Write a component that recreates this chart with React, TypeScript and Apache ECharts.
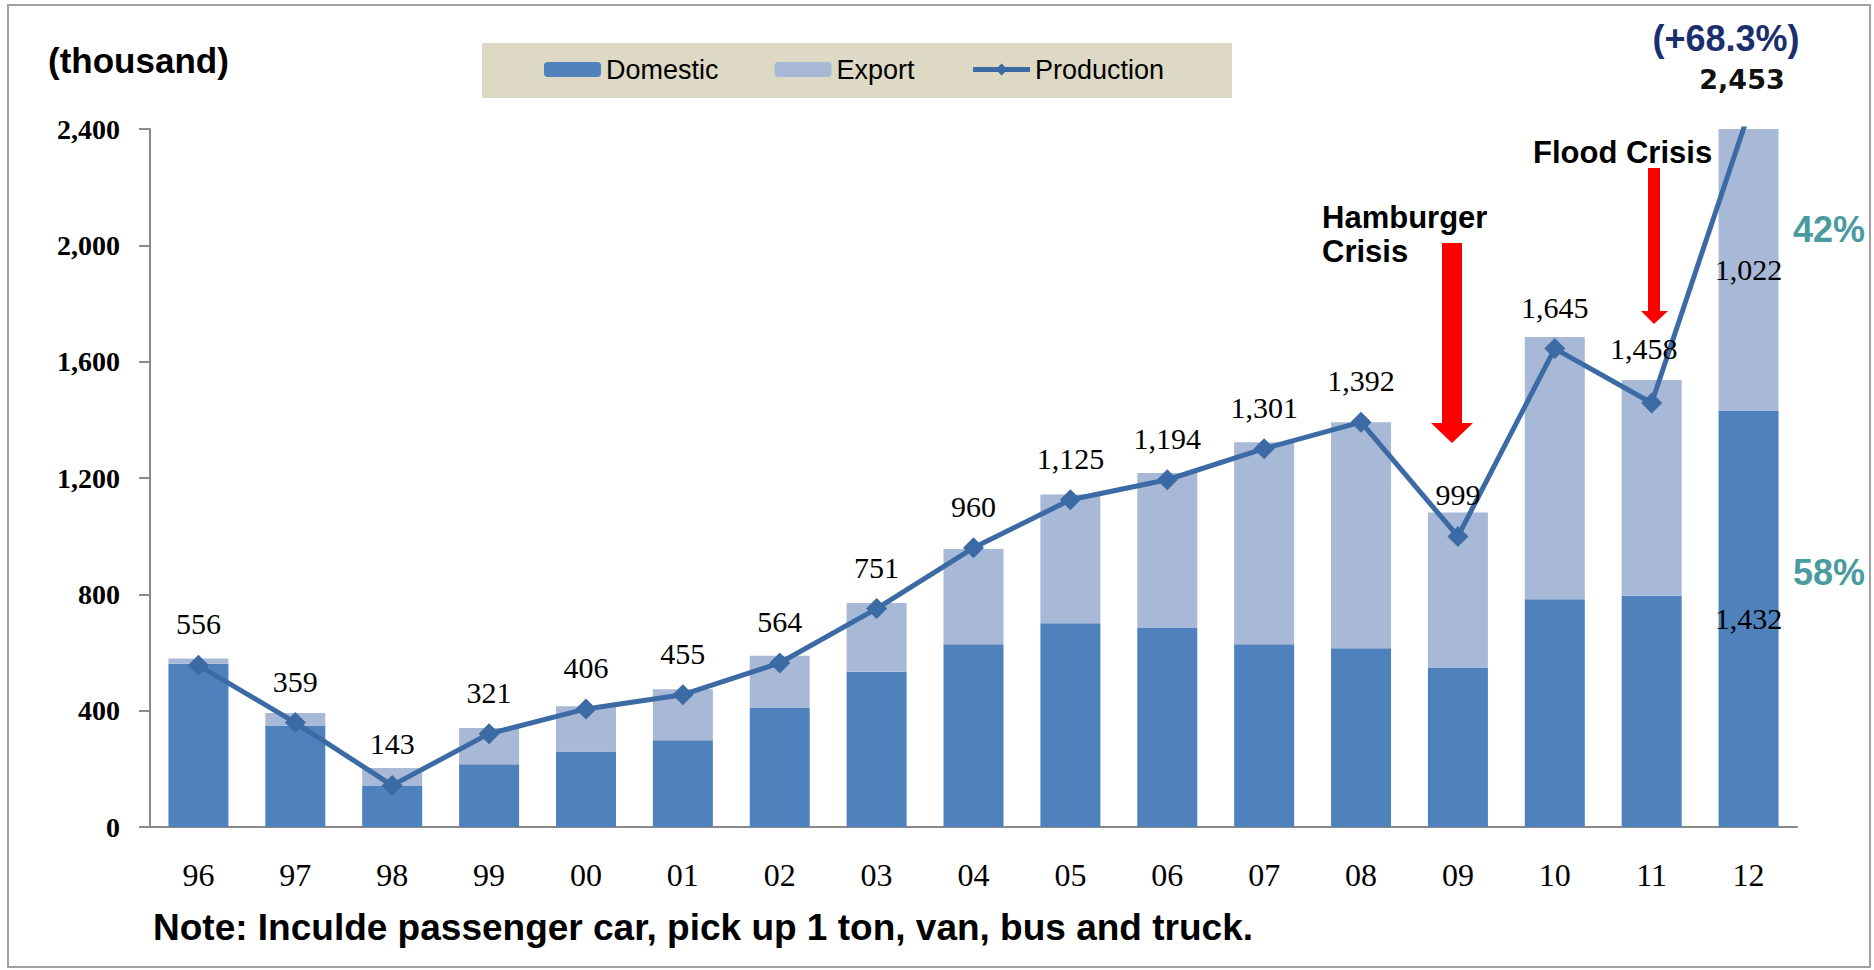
import React, { useEffect, useRef } from "react";
import * as echarts from "echarts";

const categories = ["96", "97", "98", "99", "00", "01", "02", "03", "04", "05", "06", "07", "08", "09", "10", "11", "12"];
const domestic = [561, 349, 141, 216, 260, 298, 409, 534, 628, 701, 684, 628, 615, 548, 783, 795, 1432];
const exportVals = [18, 43, 62, 124, 155, 176, 180, 236, 328, 442, 533, 695, 777, 533, 902, 742, 1022];
const production = [556, 359, 143, 321, 406, 455, 564, 751, 960, 1125, 1194, 1301, 1392, 999, 1645, 1458, 2453];
const yTicks = [0, 400, 800, 1200, 1600, 2000, 2400];
const seriesNames = ["Domestic", "Export", "Production"];
const unitLabel = "(thousand)";
const growthLabel = "(+68.3%)";
const exportShare = "42%";
const domesticShare = "58%";
const crisis1 = ["Hamburger", "Crisis"];
const crisis2 = "Flood Crisis";
const noteText = "Note: Inculde passenger car, pick up 1 ton, van, bus and truck.";

const fmt = (v: number) => Number(v).toLocaleString("en-US");

export default function App() {
  const ref = useRef<HTMLDivElement>(null);
  useEffect(() => {
    document.body.style.margin = "0";
    const chart = echarts.init(ref.current!, null, { renderer: "svg" });
    const last = categories.length - 1;
    const serif = '"Liberation Serif", "Times New Roman", serif';
    const sans = '"Liberation Sans", Arial, sans-serif';
    const lineColor = "#3b6aa4";
    const option: any = {
      animation: false,
      backgroundColor: "#ffffff",
      grid: { left: 150, right: 77, top: 129, bottom: 143, containLabel: false, outerBoundsMode: "none" },
      legend: {
        data: seriesNames,
        left: 544,
        top: 56,
        itemWidth: 57,
        itemHeight: 15,
        itemGap: 56,
        padding: 0,
        lineStyle: { width: 5 },
        textStyle: { fontFamily: sans, fontSize: 27, color: "#000" },
      },
      xAxis: {
        type: "category",
        data: categories,
        axisLine: { lineStyle: { color: "#8a8a8a", width: 2 } },
        axisTick: { show: false },
        axisLabel: { fontFamily: serif, fontSize: 32, color: "#000", margin: 32 },
      },
      yAxis: {
        type: "value",
        min: yTicks[0],
        max: yTicks[yTicks.length - 1],
        interval: yTicks[1] - yTicks[0],
        splitLine: { show: false },
        axisLine: { show: true, lineStyle: { color: "#8a8a8a", width: 2 } },
        axisTick: { show: true, length: 11, lineStyle: { color: "#8a8a8a", width: 2 } },
        axisLabel: {
          fontFamily: serif,
          fontWeight: "bold",
          fontSize: 28,
          color: "#000",
          margin: 30,
          formatter: (v: number) => fmt(v),
        },
      },
      series: [
        {
          name: seriesNames[0],
          type: "bar",
          stack: "total",
          data: domestic,
          barWidth: 60,
          itemStyle: { color: "#4f81bd" },
          label: {
            show: true,
            position: "inside",
            fontFamily: serif,
            fontSize: 30,
            color: "#000",
            formatter: (p: any) => (p.dataIndex === last ? fmt(p.value) : ""),
          },
        },
        {
          name: seriesNames[1],
          type: "bar",
          stack: "total",
          data: exportVals,
          barWidth: 60,
          itemStyle: { color: "#a8b9d7" },
          label: {
            show: true,
            position: "inside",
            fontFamily: serif,
            fontSize: 30,
            color: "#000",
            formatter: (p: any) => (p.dataIndex === last ? fmt(p.value) : ""),
          },
        },
        {
          name: seriesNames[2],
          type: "line",
          data: production.map((v, i) => {
            if (i === last) return { value: v, label: { show: false } };
            if (i === 15) return { value: v, label: { offset: [-8, -13] } };
            return v;
          }),
          z: 5,
          symbol: "diamond",
          symbolSize: 21,
          lineStyle: { color: lineColor, width: 5 },
          itemStyle: { color: lineColor },
          label: {
            show: true,
            position: "top",
            distance: 16,
            fontFamily: serif,
            fontSize: 30,
            color: "#000",
            formatter: (p: any) => fmt(p.value),
          },
        },
      ],
      graphic: [
        {
          type: "rect",
          z: -10,
          shape: { x: 8, y: 5, width: 1862, height: 962 },
          style: { fill: "none", stroke: "#a0a0a0", lineWidth: 2 },
        },
        {
          type: "rect",
          z: 0,
          shape: { x: 482, y: 43, width: 750, height: 55 },
          style: { fill: "#ddd9c4" },
        },
        {
          type: "text",
          x: 48,
          y: 60,
          style: { text: unitLabel, fill: "#000", font: `bold 35px ${sans}`, textAlign: "left", textVerticalAlign: "middle", align: "left", verticalAlign: "middle" },
        },
        {
          type: "text",
          x: 1726,
          y: 38,
          style: { text: growthLabel, fill: "#1b2f6e", font: `bold 36px ${sans}`, textAlign: "center", textVerticalAlign: "middle", align: "center", verticalAlign: "middle" },
        },
        {
          type: "text",
          x: 1742,
          y: 79,
          style: { text: fmt(production[last]), fill: "#111", font: `bold 27px "DejaVu Sans", sans-serif`, textAlign: "center", textVerticalAlign: "middle", align: "center", verticalAlign: "middle" },
        },
        {
          type: "text",
          x: 1829,
          y: 229,
          style: { text: exportShare, fill: "#4a9b9f", font: `bold 36px ${sans}`, textAlign: "center", textVerticalAlign: "middle", align: "center", verticalAlign: "middle" },
        },
        {
          type: "text",
          x: 1829,
          y: 572,
          style: { text: domesticShare, fill: "#4a9b9f", font: `bold 36px ${sans}`, textAlign: "center", textVerticalAlign: "middle", align: "center", verticalAlign: "middle" },
        },
        {
          type: "text",
          x: 1322,
          y: 217,
          style: { text: crisis1[0], fill: "#000", font: `bold 31px ${sans}`, textAlign: "left", textVerticalAlign: "middle", align: "left", verticalAlign: "middle" },
        },
        {
          type: "text",
          x: 1322,
          y: 251,
          style: { text: crisis1[1], fill: "#000", font: `bold 31px ${sans}`, textAlign: "left", textVerticalAlign: "middle", align: "left", verticalAlign: "middle" },
        },
        {
          type: "text",
          x: 1533,
          y: 152,
          style: { text: crisis2, fill: "#000", font: `bold 31px ${sans}`, textAlign: "left", textVerticalAlign: "middle", align: "left", verticalAlign: "middle" },
        },
        {
          type: "rect",
          z: 10,
          shape: { x: 1442, y: 243, width: 20, height: 181 },
          style: { fill: "#ff0000" },
        },
        {
          type: "polygon",
          z: 10,
          shape: { points: [[1431, 423], [1473, 423], [1452, 443]] },
          style: { fill: "#ff0000" },
        },
        {
          type: "rect",
          z: 10,
          shape: { x: 1648, y: 168, width: 12, height: 144 },
          style: { fill: "#ff0000" },
        },
        {
          type: "polygon",
          z: 10,
          shape: { points: [[1641, 311], [1668, 311], [1654, 324]] },
          style: { fill: "#ff0000" },
        },
        {
          type: "text",
          x: 153,
          y: 927,
          style: { text: noteText, fill: "#000", font: `bold 37px ${sans}`, textAlign: "left", textVerticalAlign: "middle", align: "left", verticalAlign: "middle" },
        },
      ],
    };
    chart.setOption(option);
    return () => chart.dispose();
  }, []);
  return <div ref={ref} style={{ width: 1874, height: 970 }} />;
}
